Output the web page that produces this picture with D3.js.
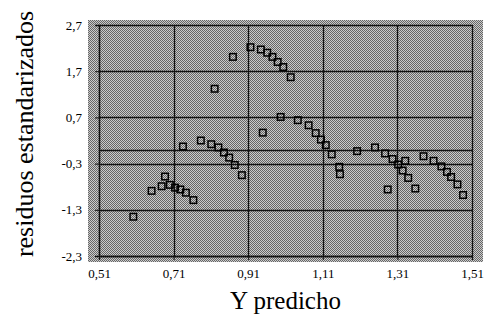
<!DOCTYPE html>
<html>
<head>
<meta charset="utf-8">
<script src="https://cdn.jsdelivr.net/npm/d3@7"></script>
<style>
  html, body { margin: 0; padding: 0; background: #ffffff; }
  svg { display: block; }
</style>
</head>
<body>
<script>
// ---- Data ----
const yPredicho = [
  0.602, 0.651, 0.678, 0.687, 0.700, 0.714, 0.728, 0.743, 0.763,
  0.735, 0.783, 0.811, 0.830, 0.845, 0.859, 0.874, 0.893,
  0.820, 0.869, 0.916, 0.944, 0.961, 0.975, 0.989, 1.004, 1.024,
  0.949, 0.997, 1.043, 1.072, 1.091, 1.105, 1.118, 1.134,
  1.202, 1.250, 1.277, 1.154, 1.156,
  1.297, 1.312, 1.331, 1.324, 1.339, 1.284, 1.358,
  1.380, 1.407, 1.428, 1.443, 1.454, 1.471, 1.486
];
const residuos = [
  -1.45, -0.89, -0.79, -0.58, -0.76, -0.82, -0.86, -0.93, -1.09,
  0.07, 0.20, 0.12, 0.05, -0.06, -0.17, -0.33, -0.55,
  1.32, 2.01, 2.22, 2.17, 2.10, 2.01, 1.90, 1.79, 1.57,
  0.37, 0.71, 0.64, 0.53, 0.36, 0.22, 0.10, -0.10,
  -0.03, 0.05, -0.08, -0.37, -0.53,
  -0.20, -0.32, -0.24, -0.45, -0.61, -0.86, -0.84,
  -0.14, -0.24, -0.36, -0.48, -0.59, -0.75, -0.98
];
const xTicks = [0.51, 0.71, 0.91, 1.11, 1.31, 1.51];
const yTicks = [2.7, 1.7, 0.7, -0.3, -1.3, -2.3];
const xTitle = "Y predicho";
const yTitle = "residuos estandarizados";

// ---- Layout ----
const W = 489, H = 320;
const plot = { left: 99, right: 472, top: 25, bottom: 256 };
const serif = "'Liberation Serif', 'Times New Roman', serif";

const svg = d3.select("body").append("svg")
  .attr("width", W).attr("height", H);

const defs = svg.append("defs");
const pat = defs.append("pattern")
  .attr("id", "dither").attr("patternUnits", "userSpaceOnUse")
  .attr("width", 2).attr("height", 2);
pat.append("rect").attr("width", 2).attr("height", 2).attr("fill", "#cbcbcb");
pat.append("rect").attr("x", 0).attr("y", 0).attr("width", 1).attr("height", 1).attr("fill", "#666");
pat.append("rect").attr("x", 1).attr("y", 1).attr("width", 1).attr("height", 1).attr("fill", "#666");

const x = d3.scaleLinear().domain([0.51, 1.51]).range([plot.left, plot.right]);
const y = d3.scaleLinear().domain([-2.3, 2.7]).range([plot.bottom, plot.top]);
const comma = s => String(s).replace(".", ",");

// plot background (textured grey, slightly larger than the axis frame)
svg.append("rect")
  .attr("x", plot.left - 11).attr("y", plot.top - 5)
  .attr("width", plot.right - plot.left + 22).attr("height", plot.bottom - plot.top + 11)
  .attr("fill", "url(#dither)");

// grid lines
const grid = svg.append("g").attr("stroke", "#111").attr("stroke-width", 1.3);
grid.selectAll("line.h").data(yTicks).join("line")
  .attr("x1", plot.left).attr("x2", plot.right)
  .attr("y1", d => Math.round(y(d)) + 0.5).attr("y2", d => Math.round(y(d)) + 0.5);
grid.selectAll("line.v").data(xTicks).join("line")
  .attr("y1", plot.top).attr("y2", plot.bottom)
  .attr("x1", d => Math.round(x(d)) + 0.5).attr("x2", d => Math.round(x(d)) + 0.5);
// zero line
grid.append("line")
  .attr("x1", plot.left).attr("x2", plot.right)
  .attr("y1", Math.round(y(0)) + 0.5).attr("y2", Math.round(y(0)) + 0.5);

// axes (ticks + labels)
const yAxis = d3.axisLeft(y).tickValues(yTicks).tickSize(4).tickPadding(13)
  .tickFormat(d => comma(d.toFixed(1)));
const gy = svg.append("g").attr("transform", `translate(${plot.left},0)`).call(yAxis);
const xAxis = d3.axisBottom(x).tickValues(xTicks).tickSize(4).tickPadding(9)
  .tickFormat(d => comma(d.toFixed(2)));
const gx = svg.append("g").attr("transform", `translate(0,${plot.bottom})`).call(xAxis);
[gx, gy].forEach(g => {
  g.select(".domain").attr("stroke", "#111").attr("stroke-width", 1.3);
  g.selectAll(".tick line").attr("stroke", "#111");
  g.selectAll("text").attr("font-family", serif)
    .attr("font-size", 13).attr("fill", "#000");
});

// markers: open squares
const s = 6.5;
svg.append("g").selectAll("rect.pt").data(yPredicho.map((v, i) => [v, residuos[i]])).join("rect")
  .attr("x", d => x(d[0]) - s / 2).attr("y", d => y(d[1]) - s / 2)
  .attr("width", s).attr("height", s)
  .attr("fill", "none").attr("stroke", "#000").attr("stroke-width", 1.5);

// titles
svg.append("text")
  .attr("x", (plot.left + plot.right) / 2).attr("y", 309)
  .attr("text-anchor", "middle")
  .attr("font-family", serif)
  .attr("font-size", 25).attr("fill", "#000")
  .text(xTitle);
svg.append("text")
  .attr("transform", `translate(33,134) rotate(-90)`)
  .attr("text-anchor", "middle")
  .attr("font-family", serif)
  .attr("font-size", 26).attr("fill", "#000")
  .text(yTitle);
</script>
</body>
</html>
